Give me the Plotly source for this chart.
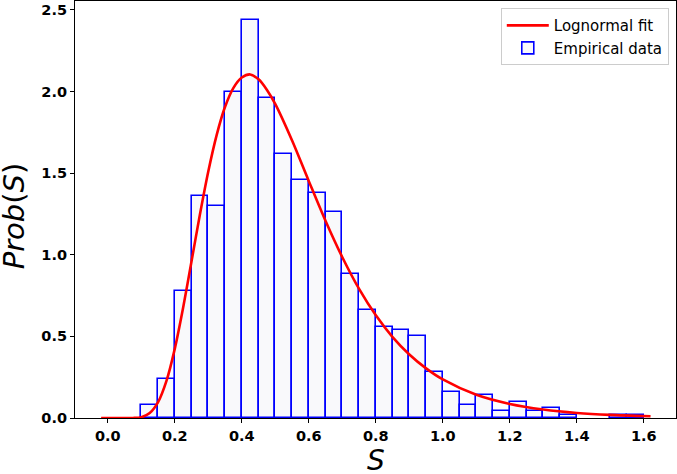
import plotly.graph_objects as go

# Histogram bins (left edges), width 0.05
bin_left = [0.10, 0.15, 0.20, 0.25, 0.30, 0.35, 0.40, 0.45, 0.50, 0.55,
            0.60, 0.65, 0.70, 0.75, 0.80, 0.85, 0.90, 0.95, 1.00, 1.05,
            1.10, 1.15, 1.20, 1.25, 1.30, 1.35, 1.40, 1.45, 1.50, 1.55]
density = [0.08, 0.24, 0.78, 1.36, 1.30, 2.00, 2.44, 1.96, 1.62, 1.46,
           1.38, 1.26, 0.88, 0.66, 0.56, 0.54, 0.50, 0.28, 0.16, 0.08,
           0.14, 0.04, 0.10, 0.04, 0.06, 0.02, 0.00, 0.00, 0.02, 0.02]
bin_width = 0.05

# Lognormal fit curve
fit_s = [-0.02, 0.0, 0.05, 0.075, 0.10, 0.125, 0.15, 0.175, 0.20, 0.225,
         0.25, 0.275, 0.30, 0.325, 0.35, 0.375, 0.40, 0.425, 0.45, 0.475,
         0.50, 0.55, 0.60, 0.65, 0.70, 0.75, 0.80, 0.85, 0.90, 0.95,
         1.00, 1.10, 1.20, 1.30, 1.40, 1.50, 1.62]
fit_p = [0.0, 0.0, 0.0, 0.0004, 0.005, 0.030, 0.097, 0.227, 0.425, 0.678,
         0.962, 1.248, 1.512, 1.735, 1.907, 2.023, 2.086, 2.105, 2.075, 2.010,
         1.923, 1.700, 1.451, 1.207, 0.985, 0.791, 0.629, 0.496, 0.389, 0.304,
         0.236, 0.142, 0.086, 0.052, 0.031, 0.019, 0.011]

x_ticks = [0.0, 0.2, 0.4, 0.6, 0.8, 1.0, 1.2, 1.4, 1.6]
y_ticks = [0.0, 0.5, 1.0, 1.5, 2.0, 2.5]
x_title = "<i>S</i>"
y_title = "<i>Prob</i>(<i>S</i>)"

centers = [b + bin_width / 2 for b in bin_left]
# empty bins draw no outline
line_widths = [1.6 if d > 0 else 0 for d in density]

fig = go.Figure()
fig.add_trace(go.Bar(
    x=centers, y=density, width=bin_width,
    marker=dict(color="#f9f9fb", line=dict(color="#0000ff", width=line_widths)),
    name="Empirical data", showlegend=True, legendrank=2,
))
fig.add_trace(go.Scatter(
    x=fit_s, y=fit_p, mode="lines",
    line=dict(color="#ff0000", width=2.6, shape="spline", smoothing=0.8),
    name="Lognormal fit", legendrank=1,
))

tickfont = dict(family="DejaVu Sans", size=14.5, color="black", weight="bold")
fig.update_layout(
    width=677, height=474,
    margin=dict(l=75, r=1, t=1, b=56),
    paper_bgcolor="white", plot_bgcolor="white",
    bargap=0,
    font=dict(family="DejaVu Sans", color="black"),
    legend=dict(
        x=0.988, y=0.983, xanchor="right", yanchor="top",
        traceorder="normal", itemwidth=42,
        bordercolor="#cccccc", borderwidth=1, bgcolor="rgba(255,255,255,0.8)",
        font=dict(family="DejaVu Sans", size=15, color="black"),
    ),
    xaxis=dict(
        range=[-0.098, 1.696], tickvals=x_ticks,
        ticktext=[f"{v:.1f}" for v in x_ticks],
        ticks="outside", ticklen=4, tickwidth=1, tickcolor="black",
        showline=True, linecolor="black", linewidth=1.2, mirror=True,
        showgrid=False, zeroline=False, tickfont=tickfont, automargin=False,
    ),
    yaxis=dict(
        range=[0, 2.555], tickvals=y_ticks,
        ticktext=[f"{v:.1f}" for v in y_ticks],
        ticks="outside", ticklen=4, tickwidth=1, tickcolor="black",
        showline=True, linecolor="black", linewidth=1.2, mirror=True,
        showgrid=False, zeroline=False, tickfont=tickfont, automargin=False,
    ),
    annotations=[
        dict(text=x_title, xref="x domain", yref="y domain", x=0.5, y=-0.102,
             xanchor="center", yanchor="middle", showarrow=False,
             font=dict(family="DejaVu Sans", size=28, color="black")),
        dict(text=y_title, xref="x domain", yref="y domain", x=-0.1015, y=0.486,
             xanchor="center", yanchor="middle", showarrow=False, textangle=-90,
             font=dict(family="DejaVu Sans", size=29, color="black")),
    ],
)

fig.write_html("out.html", config={"displayModeBar": False},
               post_script="document.body.style.margin='0';")
